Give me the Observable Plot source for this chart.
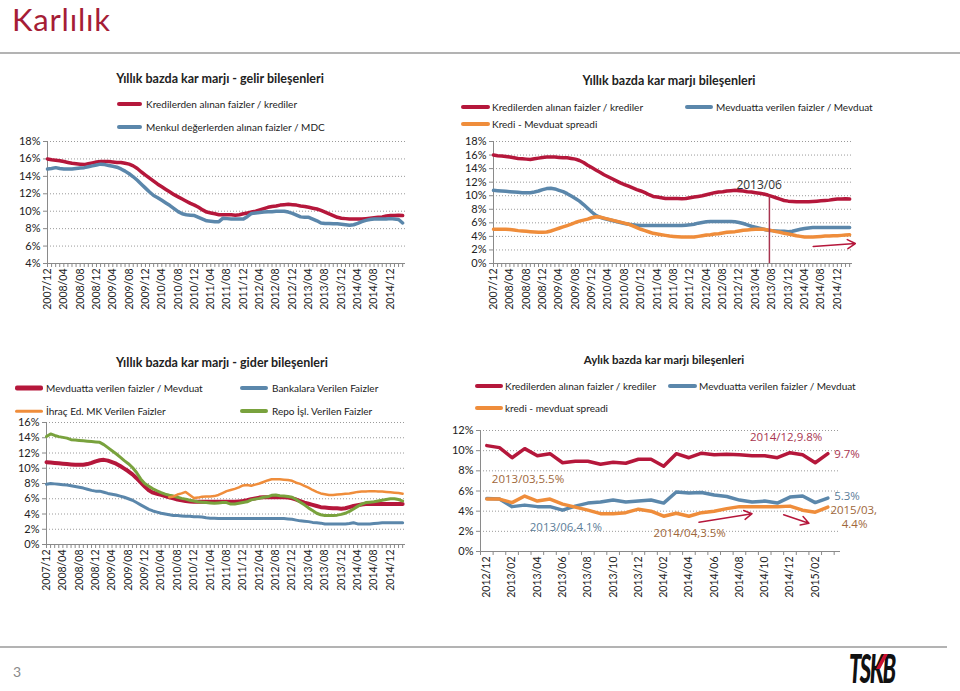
<!DOCTYPE html>
<html><head><meta charset="utf-8">
<script src="https://cdn.jsdelivr.net/npm/d3@7"></script>
<script src="https://cdn.jsdelivr.net/npm/@observablehq/plot@0.6"></script>
<style>
body{margin:0;background:#fff;}
#page{position:relative;width:960px;height:691px;overflow:hidden;font-family:Lato,"Open Sans",sans-serif;color:#222;background:#fff;}
.abs{position:absolute;white-space:nowrap;}
.title{font-weight:bold;font-size:12.5px;transform:translate(-50%,-50%);}
.leg{font-size:10px;transform:translateY(-50%);display:flex;align-items:center;}
.sw{position:absolute;border-radius:2px;transform:translateY(-50%);}
</style></head><body><div id="page"></div>
<script>
// ---------------- DATA ----------------
// Monthly categories 2007/12 ... 2015/03 (88 months)
const annualMonths = d3.utcMonths(new Date(Date.UTC(2007,11,1)), new Date(Date.UTC(2015,3,1))).map(d3.utcFormat("%Y/%m"));
const annualTickLabels = ["2007/12","2008/04","2008/08","2008/12","2009/04","2009/08","2009/12","2010/04","2010/08","2010/12","2011/04","2011/08","2011/12","2012/04","2012/08","2012/12","2013/04","2013/08","2013/12","2014/04","2014/08","2014/12"];

// Kredilerden alınan faizler / krediler (annualised, %)
const loanYield = [16.0,15.9,15.85,15.8,15.7,15.6,15.5,15.45,15.4,15.35,
 15.45,15.55,15.65,15.7,15.7,15.7,15.65,15.6,15.6,15.5,
 15.4,15.2,14.9,14.5,14.15,13.8,13.45,13.1,12.8,12.5,
 12.2,11.9,11.65,11.4,11.15,10.9,10.7,10.45,10.15,9.9,
 9.8,9.7,9.6,9.6,9.6,9.6,9.55,9.6,9.7,9.8,
 9.9,10.0,10.15,10.3,10.45,10.55,10.6,10.7,10.75,10.8,
 10.75,10.7,10.6,10.55,10.45,10.35,10.25,10.1,9.9,9.7,
 9.5,9.3,9.2,9.15,9.1,9.1,9.1,9.1,9.15,9.2,
 9.25,9.3,9.35,9.45,9.5,9.5,9.55,9.5];
// Menkul değerlerden alınan faizler / MDC
const securitiesYield = [14.85,14.9,15.0,14.9,14.85,14.85,14.85,14.9,14.95,15.0,
 15.1,15.2,15.3,15.4,15.35,15.25,15.15,15.05,14.85,14.6,
 14.3,13.95,13.55,13.1,12.65,12.2,11.8,11.55,11.25,10.95,
 10.65,10.3,9.95,9.7,9.6,9.55,9.5,9.3,9.1,8.9,
 8.85,8.8,8.8,9.2,9.15,9.1,9.1,9.1,9.1,9.4,
 9.75,9.8,9.85,9.9,9.95,9.95,10.0,10.0,10.0,9.9,
 9.75,9.55,9.35,9.3,9.3,9.1,8.9,8.65,8.6,8.6,
 8.55,8.55,8.5,8.45,8.4,8.45,8.6,8.8,8.95,9.05,
 9.1,9.1,9.1,9.1,9.15,9.1,9.05,8.65];
// Mevduatta verilen faizler / Mevduat
const depositCost = [10.8,10.75,10.7,10.65,10.6,10.55,10.5,10.45,10.45,10.45,
 10.55,10.7,10.9,11.05,11.1,11.0,10.8,10.6,10.3,9.95,
 9.6,9.2,8.7,8.15,7.6,7.1,6.8,6.65,6.5,6.35,
 6.2,6.05,5.9,5.8,5.7,5.65,5.6,5.6,5.6,5.6,
 5.6,5.6,5.6,5.6,5.6,5.6,5.6,5.65,5.7,5.8,
 5.95,6.05,6.15,6.2,6.2,6.2,6.2,6.2,6.2,6.15,
 6.05,5.9,5.7,5.5,5.35,5.2,5.05,4.9,4.85,4.8,
 4.75,4.75,4.7,4.75,4.9,5.05,5.15,5.25,5.3,5.3,
 5.3,5.3,5.3,5.3,5.3,5.3,5.3,5.3];
// Kredi - Mevduat spreadi
const loanDepositSpread = [5.05,5.05,5.05,5.05,5.0,4.95,4.85,4.8,4.75,4.7,
 4.65,4.6,4.6,4.65,4.8,5.0,5.2,5.4,5.6,5.8,
 6.05,6.25,6.4,6.55,6.75,6.9,6.85,6.7,6.55,6.4,
 6.25,6.1,5.95,5.8,5.55,5.3,5.05,4.85,4.65,4.45,
 4.35,4.25,4.15,4.05,4.0,3.95,3.9,3.9,3.9,3.9,
 4.0,4.1,4.2,4.25,4.35,4.4,4.5,4.6,4.65,4.7,
 4.8,4.9,4.95,5.0,5.05,5.05,5.05,4.95,4.85,4.7,
 4.6,4.45,4.35,4.25,4.1,4.0,3.9,3.9,3.9,3.95,
 4.0,4.05,4.05,4.1,4.1,4.15,4.2,4.25];
// Bankalara Verilen Faizler
const interbankCost = [7.9,8.0,7.95,7.9,7.85,7.8,7.7,7.6,7.5,7.4,
 7.25,7.1,7.0,7.0,6.85,6.7,6.6,6.5,6.35,6.2,
 6.0,5.8,5.5,5.2,4.9,4.6,4.4,4.25,4.1,4.0,
 3.9,3.8,3.8,3.75,3.7,3.7,3.65,3.65,3.6,3.5,
 3.45,3.45,3.4,3.4,3.4,3.4,3.4,3.4,3.4,3.4,
 3.4,3.4,3.4,3.4,3.4,3.4,3.4,3.4,3.4,3.35,
 3.3,3.2,3.1,3.05,3.0,2.9,2.85,2.8,2.7,2.7,
 2.7,2.7,2.7,2.7,2.75,2.85,2.7,2.7,2.7,2.7,
 2.75,2.8,2.85,2.85,2.85,2.85,2.85,2.85];
// İhraç Ed. MK Verilen Faizler
const issuedSecCost = [null,null,null,null,null,null,null,null,null,null,
 null,null,null,null,null,null,null,null,null,null,
 null,null,null,null,null,null,null,null,null,null,
 6.2,6.3,6.55,6.7,6.9,6.5,6.1,6.15,6.25,6.3,
 6.3,6.35,6.5,6.75,7.0,7.15,7.3,7.5,7.75,7.8,
 7.7,7.85,8.0,8.2,8.4,8.55,8.55,8.55,8.5,8.45,
 8.35,8.1,7.95,7.7,7.45,7.15,6.9,6.7,6.6,6.5,
 6.5,6.55,6.6,6.65,6.7,6.8,6.9,6.95,6.95,7.0,
 7.0,6.95,6.95,6.9,6.85,6.8,6.75,6.65];
// Repo İşl. Verilen Faizler
const repoCost = [14.15,14.5,14.3,14.15,14.05,13.95,13.75,13.7,13.65,13.6,
 13.55,13.5,13.45,13.4,13.1,12.7,12.3,11.9,11.45,11.0,
 10.6,10.1,9.45,8.6,8.0,7.65,7.3,7.05,6.8,6.6,
 6.45,6.35,6.2,6.05,5.95,5.8,5.7,5.6,5.55,5.5,
 5.45,5.4,5.45,5.5,5.5,5.3,5.3,5.4,5.5,5.6,
 5.85,5.95,6.05,6.2,6.25,6.45,6.5,6.4,6.35,6.3,
 6.2,5.9,5.55,5.2,4.8,4.45,4.1,3.9,3.8,3.8,
 3.8,3.85,3.95,4.1,4.35,4.65,5.0,5.3,5.5,5.55,
 5.6,5.7,5.8,5.9,6.0,6.0,5.9,5.7];

// Monthly chart 2012/12 ... 2015/03
const monthlyLabels = ["2012/12","2013/01","2013/02","2013/03","2013/04","2013/05","2013/06","2013/07","2013/08","2013/09","2013/10","2013/11","2013/12","2014/01","2014/02","2014/03","2014/04","2014/05","2014/06","2014/07","2014/08","2014/09","2014/10","2014/11","2014/12","2015/01","2015/02","2015/03"];
const monthlyLoan = [10.5,10.3,9.3,10.2,9.5,9.7,8.8,8.95,8.95,8.65,8.85,8.75,9.15,9.15,8.45,9.7,9.3,9.75,9.6,9.65,9.6,9.5,9.5,9.3,9.8,9.6,8.8,9.7];
const monthlyDeposit = [5.25,5.2,4.45,4.6,4.45,4.45,4.1,4.5,4.8,4.9,5.1,4.9,5.0,5.1,4.8,5.9,5.8,5.85,5.6,5.45,5.1,4.9,5.0,4.8,5.4,5.5,4.85,5.3];
const monthlySpread = [5.2,5.2,4.85,5.5,5.0,5.2,4.7,4.4,4.1,3.75,3.75,3.85,4.2,4.0,3.5,3.8,3.5,3.85,4.0,4.25,4.45,4.45,4.45,4.45,4.5,4.1,3.9,4.4];

// Annotations (data units)
const annualMarker = [{x:67.4, y:9.9, label:"2013/06", lx:64.9, ly:11.5}];
const annualArrow = [{x1:78.1, y1:2.5, x2:88.4, y2:2.95}];
const monthlyNotes = [
  {x:23.7, y:11.3, text:"2014/12,9.8%", c:"red", a:"middle"},
  {x:27.5, y:9.6, text:"9.7%", c:"red", a:"start"},
  {x:0.4, y:7.15, text:"2013/03,5.5%", c:"brown", a:"start"},
  {x:27.5, y:5.45, text:"5.3%", c:"blue", a:"start"},
  {x:27.2, y:4.05, text:"2015/03,", c:"brown", a:"start"},
  {x:28.1, y:2.7, text:"4.4%", c:"brown", a:"start"},
  {x:3.4, y:2.4, text:"2013/06,4.1%", c:"blue", a:"start"},
  {x:13.2, y:1.8, text:"2014/04,3.5%", c:"brown", a:"start"}
];
const monthlyArrows = [{x1:16.8, y1:2.9, x2:21.0, y2:3.75},{x1:23.5, y1:3.65, x2:25.5, y2:2.8}];

// ---------------- STYLE ----------------
const RED="#b5173b", BLUE="#5b87ab", ORANGE="#ef8d3b", GREEN="#79a23d";
const noteColor = {red:"#a8344f", brown:"#a0673a", blue:"#5b7d99"};
const page = document.getElementById("page");

function add(html, cls, left, top, style=""){
  const d=document.createElement("div"); d.className="abs "+cls; d.innerHTML=html;
  d.style.left=left+"px"; d.style.top=top+"px"; if(style) d.style.cssText+=style; page.appendChild(d); return d;
}
function legend(x1,x2,y,color,w,text,tx){
  add("", "sw", x1, y, `width:${x2-x1}px;height:${w}px;background:${color};`);
  add(text, "leg", tx, y);
}

function chart(cfg){
  const yb=cfg.yDomain[0];
  const marks=[
    Plot.gridY(cfg.yTicks.filter(t=>t!==yb), {stroke:"#9a9a9a", strokeOpacity:1, strokeDasharray:"1,2"}),
    Plot.ruleY([yb], {stroke:"#8a8a8a"}),
    Plot.ruleX([cfg.xDomain[0]], {stroke:"#8a8a8a"}),
    Plot.axisY({ticks:cfg.yTicks, tickFormat:d=>d+"%", tickSize:4, tickPadding:3, stroke:"#8a8a8a", fill:"#222", fontSize:11, label:null}),
    Plot.axisX({ticks:cfg.minorTicks, tickSize:4, tickFormat:()=>"", stroke:"#8a8a8a", label:null}),
    Plot.axisX({ticks:cfg.labelTicks, tickSize:0, tickPadding:5, tickRotate:-90, tickFormat:cfg.tickFormat, fill:"#222", fontSize:cfg.xFont||10.5, label:null})
  ];
  for(const s of cfg.series){
    marks.push(Plot.line(s.values.map((v,i)=>({x:i,y:v})), {x:"x", y:"y", stroke:s.color, strokeWidth:s.width}));
  }
  if(cfg.extra) marks.push(...cfg.extra);
  const svg=Plot.plot({
    width:cfg.width, height:cfg.height,
    marginLeft:cfg.mL, marginRight:cfg.mR, marginTop:cfg.mT, marginBottom:cfg.mB,
    x:{type:"linear", domain:cfg.xDomain, axis:null},
    y:{domain:cfg.yDomain, axis:null},
    style:{fontFamily:"Lato, sans-serif", fontSize:"11px", color:"#222", background:"transparent", overflow:"visible"},
    marks
  });
  svg.style.position="absolute"; svg.style.left=cfg.left+"px"; svg.style.top=cfg.top+"px";
  page.appendChild(svg);
}

const annualIdx = d3.range(annualMonths.length);
const annualLabelIdx = annualTickLabels.map(l=>annualMonths.indexOf(l));
const annualFmt = i=>annualMonths[i];

// ---------------- HEADER / FOOTER ----------------
add("Karlılık","", 12, 0, "font-size:31px;line-height:normal;letter-spacing:0.8px;color:#a51d36;font-family:Lato,sans-serif;");
add("","",0,52,"width:960px;height:2px;background:#b3b3b3;");
add("","",0,646,"width:947px;height:2px;background:#b3b3b3;");
add("3","",13,663,"font-size:14px;line-height:normal;color:#8a8a8a;");
// TSKB logo: one text plus a red slanted stroke on the K
add("TSKB","",849,643,"font-size:22px;line-height:normal;font-weight:900;font-style:italic;letter-spacing:-1.5px;color:#111;font-family:Lato,sans-serif;transform:scaleY(1.8);transform-origin:left top;");
add("","",880,654,"width:4px;height:15px;background:#c8102e;transform:skewX(-28deg);");

// ---------------- TOP LEFT ----------------
add("Yıllık bazda kar marjı - gelir bileşenleri","title",220,78);
legend(117,142,104,RED,4,"Kredilerden alınan faizler / krediler",146);
legend(117,142,127,BLUE,4,"Menkul değerlerden alınan faizler / MDC",146);
chart({left:0, top:133, width:415, height:182, mL:47, mR:10, mT:8, mB:52,
  xDomain:[0,87.7], yDomain:[4,18], yTicks:[4,6,8,10,12,14,16,18],
  minorTicks:annualIdx, labelTicks:annualLabelIdx, tickFormat:annualFmt,
  series:[{values:loanYield,color:RED,width:3.5},{values:securitiesYield,color:BLUE,width:3.5}]});

// ---------------- TOP RIGHT ----------------
add("Yıllık bazda kar marjı bileşenleri","title",669,80);
legend(461,490,107,RED,4,"Kredilerden alınan faizler / krediler",492);
legend(685,713,107,BLUE,4,"Mevduatta verilen faizler / Mevduat",716);
legend(461,490,124,ORANGE,4,"Kredi - Mevduat spreadi",492);
chart({left:445, top:133, width:422, height:182, mL:48, mR:15, mT:8, mB:52,
  xDomain:[0,87.7], yDomain:[0,18], yTicks:[0,2,4,6,8,10,12,14,16,18],
  minorTicks:annualIdx, labelTicks:annualLabelIdx, tickFormat:annualFmt,
  series:[{values:loanYield,color:RED,width:3.5},{values:depositCost,color:BLUE,width:3.5},{values:loanDepositSpread,color:ORANGE,width:3.5}],
  extra:[
    Plot.ruleX(annualMarker,{x:"x", y1:0, y2:"y", stroke:"#a8344f", strokeWidth:1.5}),
    Plot.text(annualMarker,{x:"lx", y:"ly", text:"label", fill:"#333", fontSize:12, fontFamily:"Open Sans"}),
    Plot.arrow(annualArrow,{x1:"x1",y1:"y1",x2:"x2",y2:"y2", stroke:"#b5173b", strokeWidth:1.5, headLength:9})
  ]});

// ---------------- BOTTOM LEFT ----------------
add("Yıllık bazda kar marjı - gider bileşenleri","title",222,362);
legend(15,43,388,RED,5,"Mevduatta verilen faizler / Mevduat",46);
legend(240,268,388,BLUE,4,"Bankalara Verilen Faizler",272);
legend(15,43,411,ORANGE,2.5,"İhraç Ed. MK Verilen Faizler",46);
legend(240,268,411,GREEN,4,"Repo İşl. Verilen Faizler",272);
chart({left:0, top:414, width:415, height:182, mL:46, mR:10, mT:8, mB:52,
  xDomain:[0,87.7], yDomain:[0,16], yTicks:[0,2,4,6,8,10,12,14,16],
  minorTicks:annualIdx, labelTicks:annualLabelIdx, tickFormat:annualFmt,
  series:[{values:depositCost,color:RED,width:4},{values:interbankCost,color:BLUE,width:3},{values:repoCost,color:GREEN,width:3},{values:issuedSecCost,color:ORANGE,width:2.5}]});

// ---------------- BOTTOM RIGHT ----------------
add("Aylık bazda kar marjı bileşenleri","title",664,359,"font-size:11.5px;");
legend(475,503,386,RED,4,"Kredilerden alınan faizler / krediler",505);
legend(668,697,386,BLUE,4,"Mevduatta verilen faizler / Mevduat",699);
legend(475,503,408,ORANGE,4,"kredi - mevduat spreadi",505);
const monthlyIdx = d3.range(monthlyLabels.length);
const noteOpts = {x:"x", y:"y", text:"text", fill:d=>noteColor[d.c], fontSize:11.5, fontFamily:"Open Sans"};
chart({left:430, top:422, width:440, height:181, mL:50, mR:30, mT:8, mB:52,
  xDomain:[-0.5,28], yDomain:[0,12], yTicks:[0,2,4,6,8,10,12],
  minorTicks:d3.range(-0.5,28.5,1), labelTicks:monthlyIdx.filter(i=>i%2===0), tickFormat:i=>monthlyLabels[i],
  series:[{values:monthlyLoan,color:RED,width:3.5},{values:monthlyDeposit,color:BLUE,width:3.5},{values:monthlySpread,color:ORANGE,width:3.5}],
  extra:[
    Plot.text(monthlyNotes.filter(d=>d.a==="start"),{...noteOpts, textAnchor:"start"}),
    Plot.text(monthlyNotes.filter(d=>d.a==="middle"),{...noteOpts, textAnchor:"middle"}),
    Plot.arrow(monthlyArrows,{x1:"x1",y1:"y1",x2:"x2",y2:"y2", stroke:"#b5173b", strokeWidth:1.5, headLength:9})
  ]});
</script></body></html>
